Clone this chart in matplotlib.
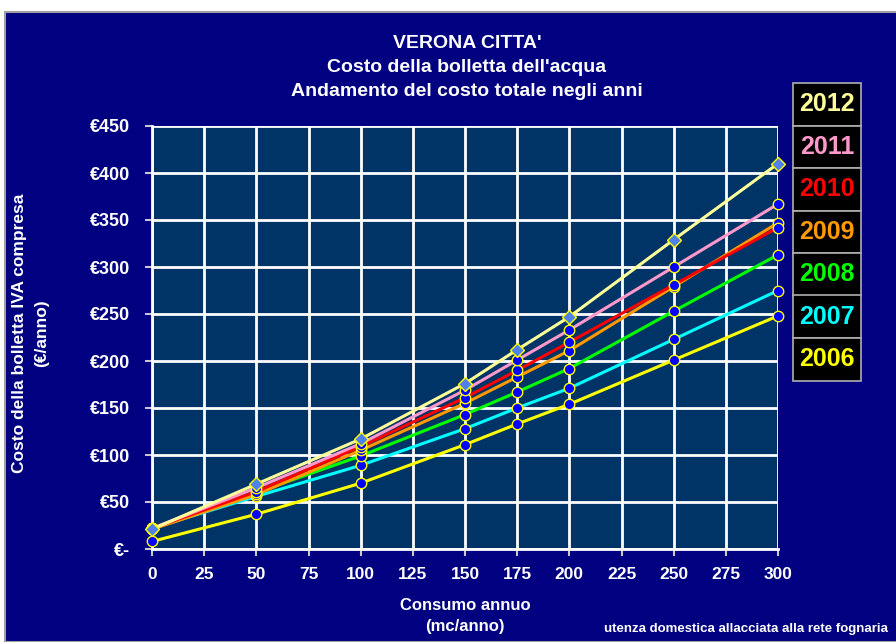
# Costo della bolletta dell'acqua - Verona città, andamento 2006-2012

import matplotlib
matplotlib.use("Agg")
import matplotlib.pyplot as plt
from matplotlib.patches import Rectangle
from matplotlib.ticker import FuncFormatter

plt.rcParams["font.family"] = ["Liberation Sans", "DejaVu Sans"]
plt.rcParams["font.weight"] = "bold"

# Dati
consumo = [0, 50, 100, 150, 175, 200, 250, 300]
anni = ["2012", "2011", "2010", "2009", "2008", "2007", "2006"]
costo_2012 = [21, 69, 117, 176, 212, 247, 329, 410]
costo_2011 = [22, 65, 112, 169, 201, 233, 300, 367]
costo_2010 = [22, 61, 109, 161, 190, 220, 281, 342]
costo_2009 = [21, 58, 105, 155, 183, 211, 279, 347]
costo_2008 = [22, 60, 99, 143, 167, 192, 253, 313]
costo_2007 = [22, 56, 89, 128, 150, 171, 223, 275]
costo_2006 = [8, 37, 70, 111, 133, 154, 201, 248]
colori = ["#FFFF99", "#FF99CC", "#FF0000", "#FF9900", "#00FF00", "#00FFFF", "#FFFF00"]

serie = [costo_2012, costo_2011, costo_2010, costo_2009, costo_2008, costo_2007, costo_2006]

NAVY = "#000080"
fig = plt.figure(figsize=(8.96, 6.42), dpi=100, facecolor="white")

# sfondo blu del grafico
fig.patches.append(Rectangle((5 / 896, 0), 1, 1 - 12 / 642, transform=fig.transFigure,
                             facecolor=NAVY, edgecolor="#A0A0A0", linewidth=1.5, zorder=-5))

ax = fig.add_axes([152 / 896, 93 / 642, 626 / 896, 423 / 642])
ax.set_facecolor("#003366")

# disegna dal 2006 al 2012, così il 2012 resta sopra
for anno, valori, col in reversed(list(zip(anni, serie, colori))):
    if anno == "2012":
        ax.plot(consumo, valori, color=col, lw=2.2, marker="D", ms=7,
                mfc="#4F81E8", mec="#FFFF00", mew=1, clip_on=False, zorder=4)
    else:
        ax.plot(consumo, valori, color=col, lw=2.2, marker="o", ms=7.5,
                mfc="#0000FF", mec="#FFFF00", mew=1, clip_on=False, zorder=3)

ax.set_xlim(0, 300)
ax.set_ylim(0, 450)
ax.set_xticks(range(0, 301, 25))
ax.set_yticks(range(0, 451, 50))
ax.grid(True, color="white", lw=2)
ax.set_axisbelow(True)
for s in ax.spines.values():
    s.set_visible(False)
ax.spines["left"].set_visible(True)
ax.spines["bottom"].set_visible(True)
ax.spines["left"].set_color("white")
ax.spines["bottom"].set_color("white")
ax.spines["left"].set_linewidth(2)
ax.spines["bottom"].set_linewidth(2)

ax.yaxis.set_major_formatter(FuncFormatter(lambda v, p: "€-" if v == 0 else f"€{v:.0f}"))
ax.tick_params(axis="both", colors="#C8C8C8", length=5, width=1.5, labelcolor="white")
ax.tick_params(axis="x", pad=8, labelsize=12.5)
ax.tick_params(axis="y", pad=11, labelsize=13)
for lab in ax.get_xticklabels() + ax.get_yticklabels():
    lab.set_fontweight("bold")

fig.text(467 / 896, 1 - 44 / 642, "VERONA CITTA'", color="white", fontsize=14,
         fontweight="bold", ha="center", va="center")
fig.text(467 / 896, 1 - 68 / 642, "Costo della bolletta dell'acqua", color="white",
         fontsize=14, fontweight="bold", ha="center", va="center")
fig.text(467 / 896, 1 - 92 / 642, "Andamento del costo totale negli anni", color="white",
         fontsize=14, fontweight="bold", ha="center", va="center")

fig.text(20 / 896, 1 - 333 / 642, "Costo della bolletta IVA compresa", color="white",
         fontsize=12.5, fontweight="bold", rotation=90, ha="center", va="center")
fig.text(42 / 896, 1 - 333 / 642, "(€/anno)", color="white",
         fontsize=12.5, fontweight="bold", rotation=90, ha="center", va="center")

fig.text(465 / 896, 1 - 605 / 642, "Consumo annuo", color="white", fontsize=12,
         fontweight="bold", ha="center", va="center")
fig.text(465 / 896, 1 - 627 / 642, "(mc/anno)", color="white", fontsize=12,
         fontweight="bold", ha="center", va="center")
fig.text(888 / 896, 1 - 629 / 642, "utenza domestica allacciata alla rete fognaria",
         color="white", fontsize=9.5, fontweight="bold", ha="right", va="center")

# legenda a caselle
box_h = 42.5
for i, (anno, col) in enumerate(zip(anni, colori)):
    top = 83 + i * box_h
    fig.patches.append(Rectangle((793 / 896, 1 - (top + box_h) / 642), 68 / 896, box_h / 642,
                                 transform=fig.transFigure, facecolor="black",
                                 edgecolor="#B0B0B0", linewidth=1.2, zorder=2))
    fig.text(827 / 896, 1 - (top + box_h / 2) / 642, anno, color=col, fontsize=18,
             fontweight="bold", ha="center", va="center", zorder=3)

fig.savefig("out.png", dpi=100, facecolor=fig.get_facecolor())
